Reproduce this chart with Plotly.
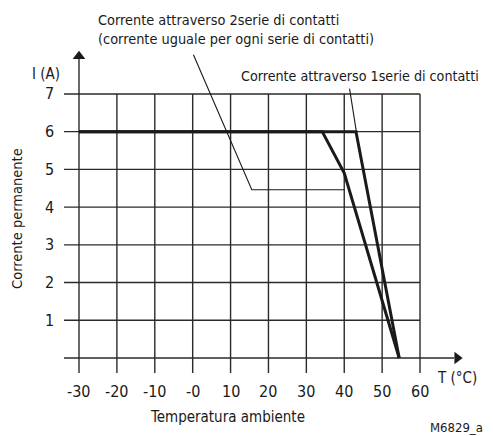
import plotly.graph_objects as go

INK = "#1a1a1a"
GRID = "#2a2a2a"
FONT = "DejaVu Sans Condensed, Roboto, sans-serif"

# grid / axis values
temps = [-30, -20, -10, 0, 10, 20, 30, 40, 50, 60]
temp_labels = ["-30", "-20", "-10", "-0", "10", "20", "30", "40", "50", "60"]
currents = [0, 1, 2, 3, 4, 5, 6, 7]
current_labels = ["", "1", "2", "3", "4", "5", "6", "7"]

# derating curves
one_series_T = [-30, 43.1, 54.5]
one_series_I = [6, 6, 0]
two_series_T = [-30, 34.2, 40, 54.5]
two_series_I = [6, 6, 4.9, 0]

# leader lines for the callouts
lead2_T = [0.2, 15.6, 40]
lead2_I = [8.04, 4.46, 4.46]
lead1_T = [41.4, 43.2]
lead1_I = [7.14, 6.0]

X_RANGE = [-33.96, 73.19]
Y_RANGE = [-0.477, 8.43]


def fx(t):
    return (t - X_RANGE[0]) / (X_RANGE[1] - X_RANGE[0])


def fy(i):
    return (i - Y_RANGE[0]) / (Y_RANGE[1] - Y_RANGE[0])


fig = go.Figure()

# vertical grid lines (7 down to tick stubs below the x axis)
gx, gy = [], []
for t in temps[1:]:
    gx += [t, t, None]
    gy += [7, -0.4, None]
# horizontal grid lines (from stub left of y axis to 60)
for c in currents[1:]:
    gx += [-34, 60, None]
    gy += [c, c, None]
fig.add_trace(go.Scatter(x=gx, y=gy, mode="lines", line=dict(color=GRID, width=1.4),
                         hoverinfo="skip", showlegend=False))

# axes with arrows
fig.add_trace(go.Scatter(x=[-30, -30, None, -34, 69], y=[-0.4, 7.95, None, 0, 0], mode="lines",
                         line=dict(color=GRID, width=1.4), hoverinfo="skip", showlegend=False))
fig.add_trace(go.Scatter(x=[-30], y=[8.0], mode="markers",
                         marker=dict(symbol="triangle-up", size=11, color=INK),
                         hoverinfo="skip", showlegend=False))
fig.add_trace(go.Scatter(x=[69.8], y=[0], mode="markers",
                         marker=dict(symbol="triangle-right", size=11, color=INK),
                         hoverinfo="skip", showlegend=False))

# leader lines
fig.add_trace(go.Scatter(x=lead2_T, y=lead2_I, mode="lines", line=dict(color=INK, width=1.1),
                         hoverinfo="skip", showlegend=False))
fig.add_trace(go.Scatter(x=lead1_T, y=lead1_I, mode="lines", line=dict(color=INK, width=1.1),
                         hoverinfo="skip", showlegend=False))

# curves
fig.add_trace(go.Scatter(x=two_series_T, y=two_series_I, mode="lines",
                         line=dict(color=INK, width=3), name="2 serie", showlegend=False))
fig.add_trace(go.Scatter(x=one_series_T, y=one_series_I, mode="lines",
                         line=dict(color=INK, width=3), name="1 serie", showlegend=False))

ann = []
for t, lab in zip(temps, temp_labels):
    ann.append(dict(x=t, y=-0.875, text=lab, xanchor="center", yanchor="middle"))
for c, lab in zip(currents, current_labels):
    if lab:
        ann.append(dict(x=-36.1, y=c, text=lab, xanchor="right", yanchor="middle"))

ann += [
    dict(x=-38.7, y=7.52, text="I (A)", xanchor="center", yanchor="middle", size=15),
    dict(x=69.8, y=-0.53, text="T (°C)", xanchor="center", yanchor="middle", size=15),
    dict(x=9.3, y=-1.56, text="Temperatura ambiente", xanchor="center", yanchor="middle",
         size=15),
    dict(x=69.6, y=-1.83, text="M6829_a", xanchor="center", yanchor="middle", size=13),
    dict(x=-46.4, y=3.71, text="Corrente permanente", textangle=-90,
         xanchor="center", yanchor="middle", size=14.5),
    dict(x=-25.5, y=8.70, align="left", xanchor="left", yanchor="middle", size=14.4,
         text="Corrente attraverso 2serie di contatti<br>"
              "(corrente uguale per ogni serie di contatti)"),
    dict(x=12.3, y=7.48, text="Corrente attraverso 1serie di contatti", size=14.2,
         xanchor="left", yanchor="middle"),
]
for a in ann:
    size = a.pop("size", 16)
    a.update(x=fx(a["x"]), y=fy(a["y"]), xref="paper", yref="paper", showarrow=False,
             font=dict(family=FONT, color=INK, size=size))

fig.update_layout(
    width=485,
    height=428,
    autosize=False,
    margin=dict(l=56, r=23, t=32, b=60),
    paper_bgcolor="white",
    plot_bgcolor="white",
    font=dict(family=FONT, color=INK, size=16),
    xaxis=dict(visible=False, range=X_RANGE, fixedrange=True),
    yaxis=dict(visible=False, range=Y_RANGE, fixedrange=True),
    annotations=ann,
)

fig.write_html("out.html")
